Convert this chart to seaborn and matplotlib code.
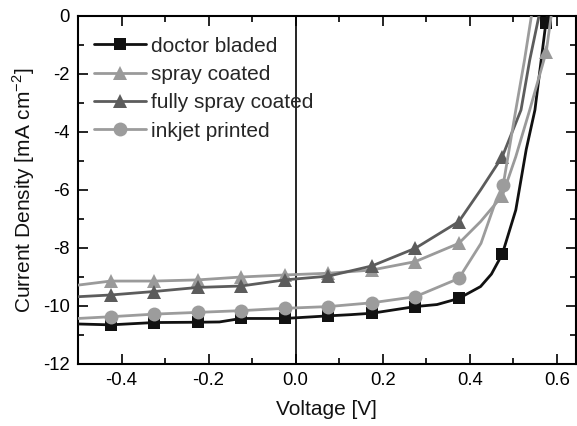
import matplotlib
matplotlib.use("Agg")
import matplotlib.pyplot as plt
import seaborn as sns
import pandas as pd

# ---- data ----
v_doctor = [-0.5, -0.425, -0.325, -0.225, -0.175, -0.125, -0.025, 0.075, 0.125, 0.175,
            0.275, 0.325, 0.375, 0.425, 0.45, 0.475, 0.506, 0.53, 0.55, 0.575, 0.585]
j_doctor = [-10.62, -10.65, -10.57, -10.56, -10.55, -10.43, -10.43, -10.34, -10.30, -10.25,
            -10.02, -9.95, -9.74, -9.33, -8.90, -8.21, -6.69, -4.60, -3.24, -0.25, 0.50]
m_doctor = [1, 2, 3, 5, 6, 7, 9, 10, 12, 15, 19]

v_spray = [-0.5, -0.425, -0.325, -0.225, -0.125, -0.025, 0.075, 0.175, 0.275, 0.375,
           0.425, 0.475, 0.506, 0.538, 0.576, 0.59]
j_spray = [-9.28, -9.14, -9.14, -9.10, -9.00, -8.93, -8.87, -8.76, -8.47, -7.84,
           -7.09, -6.20, -4.85, -3.24, -1.23, 0.30]
m_spray = [1, 2, 3, 4, 5, 6, 7, 8, 9, 11, 14]

v_fully = [-0.5, -0.425, -0.325, -0.225, -0.125, -0.025, 0.075, 0.175, 0.275, 0.375,
           0.425, 0.475, 0.518, 0.538, 0.562]
j_fully = [-9.68, -9.62, -9.50, -9.36, -9.31, -9.10, -8.97, -8.62, -8.01, -7.09,
           -6.00, -4.85, -3.24, -1.52, 0.20]
m_fully = [1, 2, 3, 4, 5, 6, 7, 8, 9, 11]

v_inkjet = [-0.5, -0.425, -0.325, -0.225, -0.125, -0.025, 0.075, 0.175, 0.275, 0.375,
            0.426, 0.461, 0.477, 0.506, 0.526, 0.545]
j_inkjet = [-10.43, -10.37, -10.28, -10.22, -10.16, -10.08, -10.02, -9.89, -9.68, -9.05,
            -7.84, -6.34, -5.83, -3.24, -1.52, 0.30]
m_inkjet = [1, 2, 3, 4, 5, 6, 7, 8, 9, 12]

labels = ["doctor bladed", "spray coated", "fully spray coated", "inkjet printed"]
colors = ["#111111", "#9a9a9a", "#5c5c5c", "#9c9c9c"]
markers = ["s", "^", "^", "o"]
msizes = [8.5, 10.5, 10.5, 10]

series = [(v_doctor, j_doctor, m_doctor), (v_spray, j_spray, m_spray),
          (v_fully, j_fully, m_fully), (v_inkjet, j_inkjet, m_inkjet)]

sns.set_style("ticks")
plt.rcParams["font.family"] = ["Liberation Sans", "DejaVu Sans"]
plt.rcParams["mathtext.fontset"] = "custom"
plt.rcParams["mathtext.rm"] = "Liberation Sans"

fig = plt.figure(figsize=(5.77, 4.26), dpi=100)
ax = fig.add_axes([78 / 577, 1 - 364 / 426, 0.998 - 78 / 577, (364 - 16) / 426])

ax.axvline(0, color="black", lw=1.2, zorder=1)

for (v, j, m), lab, c, mk, ms in zip(series, labels, colors, markers, msizes):
    df = pd.DataFrame({"V": v, "J": j})
    sns.lineplot(data=df, x="V", y="J", ax=ax, color=c, lw=2, marker=mk, markersize=ms,
                 markevery=m, markeredgewidth=0, sort=False, estimator=None, label=lab,
                 zorder=3)

ax.set_xlim(-0.5, 0.644)
ax.set_ylim(-12, 0)
ax.set_xticks([-0.4, -0.2, 0.0, 0.2, 0.4, 0.6])
ax.set_xticklabels(["-0.4", "-0.2", "0.0", "0.2", "0.4", "0.6"])
ax.set_xticks([-0.3, -0.1, 0.1, 0.3, 0.5], minor=True)
ax.set_yticks([0, -2, -4, -6, -8, -10, -12])
ax.set_yticklabels(["0", "-2", "-4", "-6", "-8", "-10", "-12"])
ax.set_yticks([-1, -3, -5, -7, -9, -11], minor=True)
ax.tick_params(which="both", direction="in", top=True, right=True, labelsize=13.3,
               width=1.2, color="black", labelcolor="black")
ax.tick_params(which="major", length=7, pad=6)
ax.tick_params(which="minor", length=4)
for s in ax.spines.values():
    s.set_linewidth(1.5)
    s.set_color("black")

ax.set_xlabel("Voltage [V]", fontsize=15, color="#111111", labelpad=8)
ax.set_ylabel(r"Current Density [mA cm$^{\mathregular{-2}}$]", fontsize=15,
              color="#111111", labelpad=4)

ax.legend(loc="upper left", bbox_to_anchor=(0.032, 0.941), frameon=False, fontsize=15,
          handlelength=2.5, handletextpad=0.25, labelspacing=0.45, borderaxespad=0,
          borderpad=0)

fig.savefig("out.png", dpi=100)
